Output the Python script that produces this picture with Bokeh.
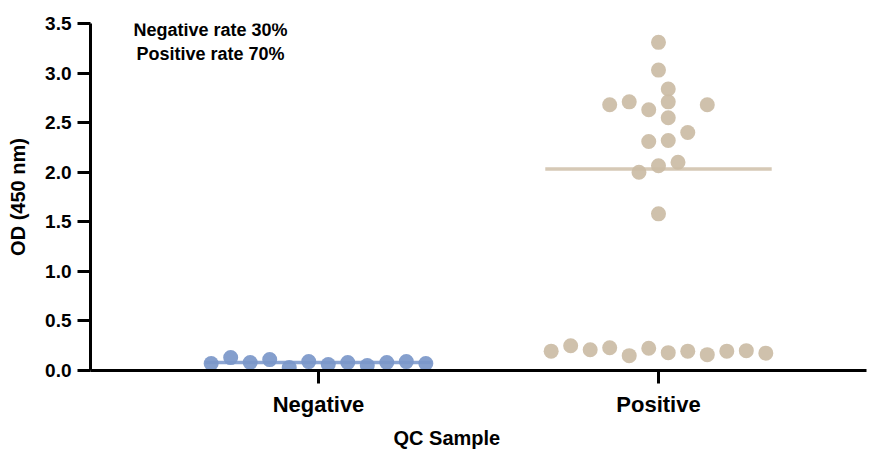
from bokeh.plotting import figure
from bokeh.models import Range1d, FixedTicker, Label, ColumnDataSource, Title
from bokeh.embed import file_html
from bokeh.resources import INLINE
import numpy as np

# ---- data ----
categories = ["Negative", "Positive"]
neg_values = [0.07, 0.13, 0.08, 0.11, 0.03, 0.09, 0.06, 0.08, 0.05, 0.08, 0.09, 0.07]
neg_slots = [-11, -9, -7, -5, -3, -1, 1, 3, 5, 7, 9, 11]
pos_values = [0.195, 0.25, 0.21, 0.23, 0.15, 0.225, 0.18, 0.195, 0.16, 0.195, 0.20, 0.175,
              3.31, 3.03, 2.84, 2.68, 2.71, 2.63, 2.71, 2.68, 2.55, 2.40, 2.31, 2.32,
              2.10, 2.065, 2.00, 1.58]
pos_slots = [-11, -9, -7, -5, -3, -1, 1, 3, 5, 7, 9, 11,
             0, 0, 1, -5, -3, -1, 1, 5, 1, 3, -1, 1, 2, 0, -2, 0]
y_ticks = [0.0, 0.5, 1.0, 1.5, 2.0, 2.5, 3.0, 3.5]
annotation_lines = ["Negative rate 30%", "Positive rate 70%"]

SLOT = 0.0287      # horizontal spacing of swarm slots (data units)
HALF_LINE = 0.333  # half-length of median line
FONT = "Liberation Sans"
BLUE = "#7b97c9"
BLUE_LINE = "#8ca5d2"
TAN = "#cbbca5"
TAN_LINE = "#d6c9b6"

p = figure(width=871, height=453, output_backend="svg", toolbar_location=None,
           x_range=Range1d(-0.6706, 1.6118), y_range=Range1d(0, 3.5),
           min_border_left=90, min_border_right=5, min_border_top=23,
           min_border_bottom=83)
p.outline_line_color = None
p.grid.visible = False
p.background_fill_color = "white"
p.border_fill_color = "white"

groups = [(0, neg_values, neg_slots, BLUE, BLUE_LINE),
          (1, pos_values, pos_slots, TAN, TAN_LINE)]
for xi, vals, slots, col, lcol in groups:
    med = float(np.median(vals))
    p.segment(x0=[xi - HALF_LINE], x1=[xi + HALF_LINE], y0=[med], y1=[med],
              line_color=lcol, line_width=3.5)
    src = ColumnDataSource(dict(x=[xi + s * SLOT for s in slots], y=vals))
    p.scatter("x", "y", source=src, size=15, fill_color=col, fill_alpha=0.92,
              line_color=None)

# axes
ax = p.yaxis[0]
ax.ticker = FixedTicker(ticks=y_ticks)
ax.major_label_overrides = {t: f"{t:.1f}" for t in y_ticks}
ax.axis_label = "OD (450 nm)"
ax.axis_label_text_font = FONT
ax.axis_label_text_font_style = "bold"
ax.axis_label_text_font_size = "20px"
ax.axis_label_standoff = 13
ax.major_label_text_font = FONT
ax.major_label_text_font_style = "bold"
ax.major_label_text_font_size = "19px"
ax.major_label_standoff = 6
ax.major_tick_out = 13
ax.major_tick_in = 0
ax.minor_tick_out = 0
ax.minor_tick_in = 0
ax.axis_line_width = 3
ax.major_tick_line_width = 3
ax.axis_line_color = "black"
ax.major_label_text_color = "black"
ax.axis_label_text_color = "black"

bx = p.xaxis[0]
bx.ticker = FixedTicker(ticks=[0, 1])
bx.major_label_overrides = {0: categories[0], 1: categories[1]}
bx.major_label_text_font = FONT
bx.major_label_text_font_style = "bold"
bx.major_label_text_font_size = "22px"
bx.major_label_text_color = "black"
bx.major_label_standoff = 8
bx.major_tick_out = 13
bx.major_tick_in = 0
bx.minor_tick_out = 0
bx.minor_tick_in = 0
bx.axis_line_width = 3
bx.major_tick_line_width = 3

# x axis title (offset left of frame centre as in the reference)
p.add_layout(Title(text="QC Sample", align="left", offset=303, standoff=10,
                   text_font=FONT, text_font_style="bold", text_font_size="20px",
                   text_color="black"), "below")

# annotation
for i, line in enumerate(annotation_lines):
    p.add_layout(Label(x=-0.3176, y=3.435 - 0.238 * i, text=line, text_align="center",
                       text_baseline="middle", text_font=FONT, text_font_style="bold",
                       text_font_size="18px", text_color="black"))

open("out.html", "w").write(file_html(p, INLINE))
